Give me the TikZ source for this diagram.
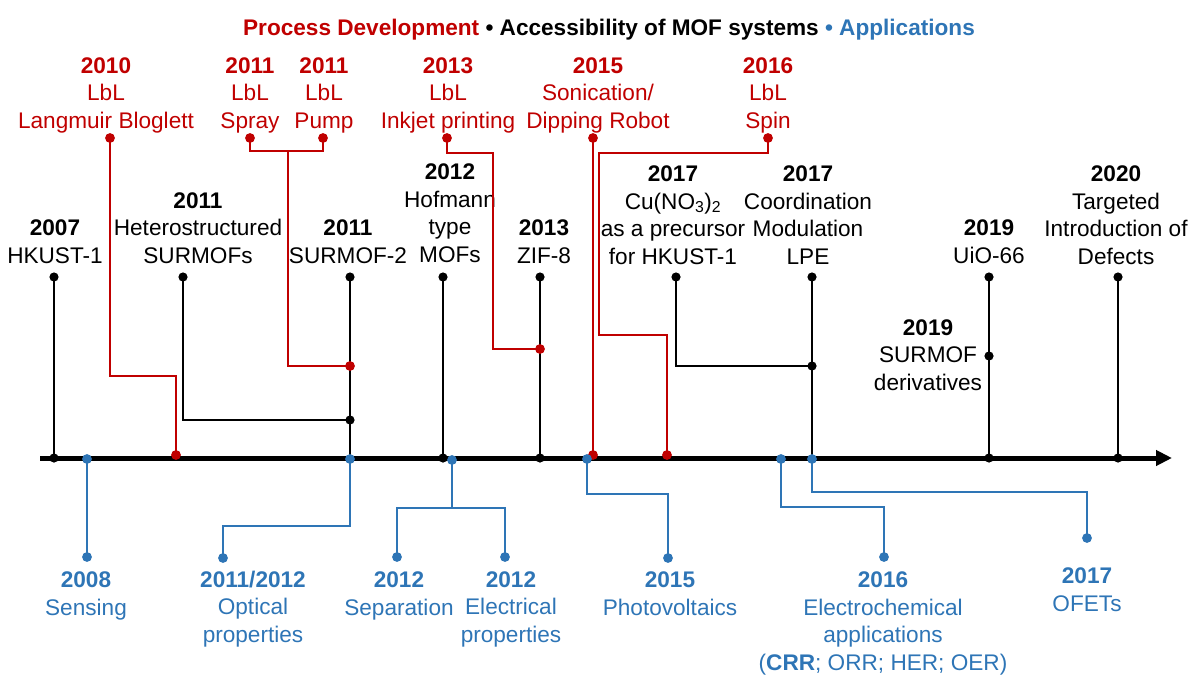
\documentclass[tikz,border=0pt]{standalone}
\usepackage{fontspec}
\setmainfont{Liberation Sans}
\usetikzlibrary{arrows.meta}
\definecolor{pdred}{RGB}{192,0,0}
\definecolor{apblue}{RGB}{46,117,182}
\tikzset{
  lbl/.style={align=center, inner sep=0pt, anchor=base, font=\fontsize{22.6}{27.5}\selectfont},
  stem/.style={line width=2.8pt},
  axisline/.style={line width=5pt, -{Triangle[length=16pt,width=15pt]}},
  dotk/.style={fill=black},
  dotr/.style={fill=pdred},
  dotb/.style={fill=apblue}
}
\begin{document}
\begin{tikzpicture}[x=1pt,y=-1pt]
\useasboundingbox (0,0) rectangle (1189,675);

% title (labels are anchored at the baseline of their last line)
\node[lbl, font=\bfseries\fontsize{22.6}{27.5}\selectfont] (title) at (609,35)
  {\textcolor{pdred}{Process Development} • Accessibility of MOF systems \textcolor{apblue}{• Applications}};

% time axis
\coordinate (ax0) at (40,458);
\coordinate (ax1) at (1172,458);
\draw[axisline] (ax0) -- (ax1);

% ---------- accessibility of MOF systems (black, above) ----------
\coordinate (k07t) at (54,277);   \coordinate (k07a) at (54,458);
\coordinate (k11ht) at (183,277); \coordinate (k11hj) at (350,420);
\coordinate (k11st) at (350,277); \coordinate (k11sa) at (350,458);
\coordinate (k12t) at (443,277);  \coordinate (k12a) at (443,458);
\coordinate (k13t) at (540,277);  \coordinate (k13a) at (540,458);
\coordinate (k17ct) at (676,277); \coordinate (k17cj) at (812,366);
\coordinate (k17mt) at (812,277); \coordinate (k17ma) at (812,458);
\coordinate (k19t) at (989,277);  \coordinate (k19a) at (989,458);
\coordinate (k19m) at (989,356);
\coordinate (k20t) at (1118,277); \coordinate (k20a) at (1118,458);

\draw[stem] (k07t) -- (k07a);
\draw[stem] (k11ht) |- (k11hj);
\draw[stem] (k11st) -- (k11sa);
\draw[stem] (k12t) -- (k12a);
\draw[stem] (k13t) -- (k13a);
\draw[stem] (k17ct) |- (k17cj);
\draw[stem] (k17mt) -- (k17ma);
\draw[stem] (k19t) -- (k19a);
\draw[stem] (k20t) -- (k20a);

\node[lbl] (n07) at (55,263) {\textbf{2007}\\HKUST-1};
\node[lbl] (n11h) at (198,263) {\textbf{2011}\\Heterostructured\\SURMOFs};
\node[lbl] (n11s) at (348,263) {\textbf{2011}\\SURMOF-2};
\node[lbl] (n12) at (450,262) {\textbf{2012}\\Hofmann\\type\\MOFs};
\node[lbl] (n13) at (544,263) {\textbf{2013}\\ZIF-8};
\node[lbl] (n17c) at (673,264) {\textbf{2017}\\Cu(NO\textsubscript{3})\textsubscript{2}\\as a precursor\\for HKUST-1};
\node[lbl] (n17m) at (808,264) {\textbf{2017}\\Coordination\\Modulation\\LPE};
\node[lbl] (n19u) at (989,263) {\textbf{2019}\\UiO-66};
\node[lbl] (n19s) at (928,390) {\textbf{2019}\\SURMOF\\derivatives};
\node[lbl] (n20) at (1116,264) {\textbf{2020}\\Targeted\\Introduction of\\Defects};

% ---------- process development (red, above) ----------
\coordinate (r10) at (110,138);  \coordinate (r10k) at (176,376); \coordinate (r10a) at (176,455);
\coordinate (rsp) at (250,138);  \coordinate (rpu) at (323,138);
\coordinate (rbr) at (288,151);  \coordinate (r11j) at (350,366);
\coordinate (r13) at (447,138);  \coordinate (r13k) at (493,153); \coordinate (r13j) at (540,349);
\coordinate (r15) at (593,138);  \coordinate (r15a) at (593,455);
\coordinate (r16) at (768,138);  \coordinate (r16k) at (599,153);
\coordinate (r16l) at (667,335); \coordinate (r16a) at (667,455);

\begin{scope}[pdred]
\draw[stem] (r10) |- (r10k) -- (r10a);
\draw[stem] (rsp) |- (rbr) -| (rpu);
\draw[stem] (rbr) |- (r11j);
\draw[stem] (r13) |- (r13k) |- (r13j);
\draw[stem] (r15) -- (r15a);
\draw[stem] (r16) |- (r16k) |- (r16l) -- (r16a);

\node[lbl] (n10r) at (106,128) {\textbf{2010}\\LbL\\Langmuir Bloglett};
\node[lbl] (n11r1) at (250,128) {\textbf{2011}\\LbL\\Spray};
\node[lbl] (n11r2) at (324,128) {\textbf{2011}\\LbL\\Pump};
\node[lbl] (n13r) at (448,128) {\textbf{2013}\\LbL\\Inkjet printing};
\node[lbl] (n15r) at (598,128) {\textbf{2015}\\Sonication/\\Dipping Robot};
\node[lbl] (n16r) at (768,128) {\textbf{2016}\\LbL\\Spin};
\end{scope}

% ---------- applications (blue, below) ----------
\coordinate (b08a) at (87,459);  \coordinate (b08) at (87,557);
\coordinate (b11a) at (350,459); \coordinate (b11k) at (223,526); \coordinate (b11) at (223,558);
\coordinate (b12a) at (452,460); \coordinate (b12k) at (452,508);
\coordinate (b12s) at (397,557); \coordinate (b12e) at (505,557);
\coordinate (b15a) at (587,459); \coordinate (b15k) at (668,494); \coordinate (b15) at (668,558);
\coordinate (b16a) at (781,459); \coordinate (b16k) at (884,507); \coordinate (b16) at (884,557);
\coordinate (b17a) at (812,459); \coordinate (b17k) at (1087,492); \coordinate (b17) at (1087,538);

\begin{scope}[apblue]
\draw[stem] (b08a) -- (b08);
\draw[stem] (b11a) |- (b11k) -- (b11);
\draw[stem] (b12a) -- (b12k);
\draw[stem] (b12k) -| (b12s);
\draw[stem] (b12k) -| (b12e);
\draw[stem] (b15a) |- (b15k) -- (b15);
\draw[stem] (b16a) |- (b16k) -- (b16);
\draw[stem] (b17a) |- (b17k) -- (b17);

\node[lbl] (n08b) at (86,615) {\textbf{2008}\\Sensing};
\node[lbl] (n11b) at (253,642) {\textbf{2011/2012}\\Optical\\properties};
\node[lbl] (n12s) at (399,615) {\textbf{2012}\\Separation};
\node[lbl] (n12e) at (511,642) {\textbf{2012}\\Electrical\\properties};
\node[lbl] (n15b) at (670,615) {\textbf{2015}\\Photovoltaics};
\node[lbl] (n16b) at (883,670) {\textbf{2016}\\Electrochemical\\applications\\(\textbf{CRR}; ORR; HER; OER)};
\node[lbl] (n17b) at (1087,611) {\textbf{2017}\\OFETs};
\end{scope}

% ---------- dots ----------
\foreach \p in {k07t,k07a,k11ht,k11hj,k11st,k12t,k12a,k13t,k13a,k17ct,k17cj,k17mt,k19t,k19a,k19m,k20t,k20a}
  \fill[dotk] (\p) circle (4.6);
\foreach \p in {r10,r10a,rsp,rpu,r11j,r13,r13j,r15,r15a,r16,r16a}
  \fill[dotr] (\p) circle (4.9);
\foreach \p in {b08a,b08,b11a,b11,b12a,b12s,b12e,b15a,b15,b16a,b16,b17a,b17}
  \fill[dotb] (\p) circle (4.9);
\end{tikzpicture}
\end{document}
